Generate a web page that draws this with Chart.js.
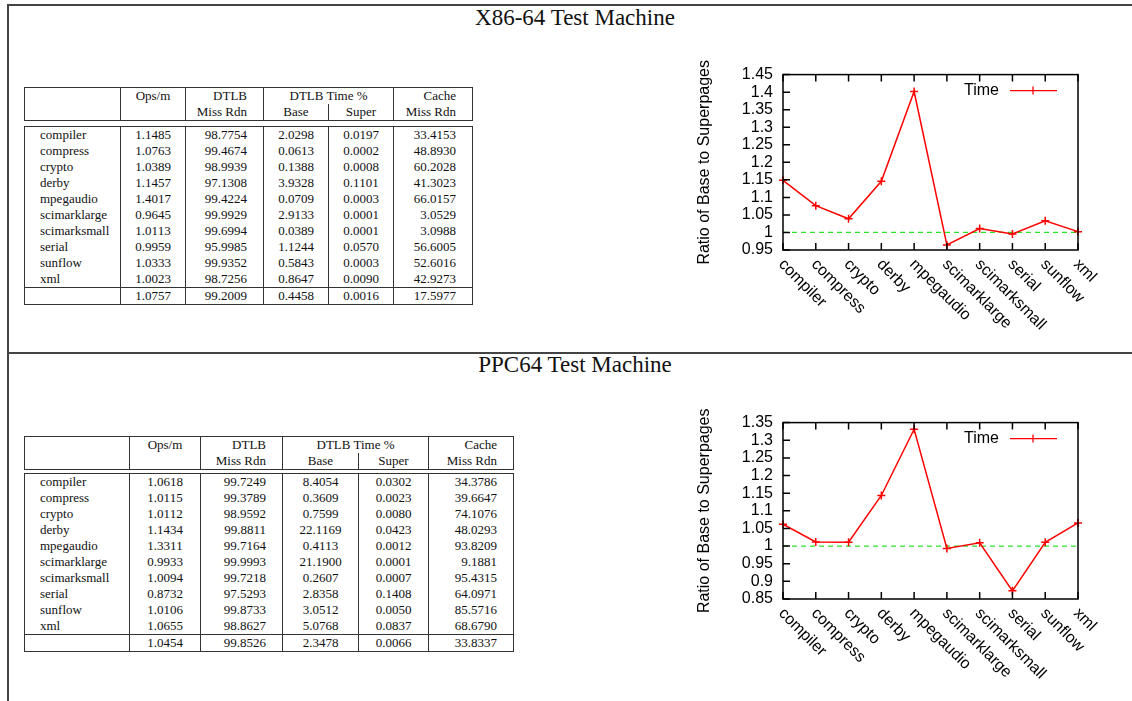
<!DOCTYPE html>
<html lang="en">
<head>
<meta charset="UTF-8" />
<title>Base vs superpages</title>
<script src="https://cdn.jsdelivr.net/npm/chart.js@4.4.1/dist/chart.umd.min.js"></script>
<style>
  body { margin: 0; width: 1132px; height: 701px; position: relative; overflow: hidden; background: #fff;
         font-family: "Liberation Serif", "Times New Roman", serif; color: #111; }
  .rule { position: absolute; background: #444; }
  .heading { position: absolute; left: 18px; right: 0; height: 26px; line-height: 26px; text-align: center; font-size: 23px; }
  table { position: absolute; border-collapse: collapse; table-layout: fixed; font-size: 13px; line-height: 16px; }
  td { padding: 0; border-left: 1.5px solid #333; border-right: 1.5px solid #333; white-space: nowrap; }
  table.head, table.body { border: 1.5px solid #333; }
  .name { text-align: left; padding-left: 15px; }
  .mid { text-align: center; }
  .rgt { text-align: right; padding-right: 16px; }
  tr.total td { border-top: 1.5px solid #333; height: 16px; }
  td.split { border-left: 1.5px solid #333; }
  .chartBox { position: absolute; left: 690px; width: 442px; height: 295px; }
</style>
</head>
<body>
<!-- page frame -->
<div class="rule" style="left:8px; top:4px; width:1124px; height:1.5px;"></div>
<div class="rule" style="left:7px; top:4px; width:1.5px; height:697px;"></div>
<div class="rule" style="left:8px; top:352px; width:1124px; height:2px;"></div>

<div class="heading" style="top:5px;">X86-64 Test Machine</div>
<div class="heading" style="top:352px;">PPC64 Test Machine</div>

<!-- x86 table -->
<table class="head" id="x86Head" style="left:24px; top:87px; width:448px;"></table>
<table class="body" id="x86Body" style="left:24px; top:126px; width:448px;"></table>
<!-- ppc table -->
<table class="head" id="ppcHead" style="left:24px; top:436px; width:489px;"></table>
<table class="body" id="ppcBody" style="left:24px; top:473px; width:489px;"></table>

<div class="chartBox" style="top:55px;"><canvas id="x86Chart"></canvas></div>
<div class="chartBox" style="top:403px;"><canvas id="ppcChart"></canvas></div>

<script>
// benchmark names (rows of the tables, categories of the charts)
var benchmarks = ['compiler', 'compress', 'crypto', 'derby', 'mpegaudio',
                  'scimarklarge', 'scimarksmall', 'serial', 'sunflow', 'xml'];

// X86-64
var x86Ops   = [1.1485, 1.0763, 1.0389, 1.1457, 1.4017, 0.9645, 1.0113, 0.9959, 1.0333, 1.0023];
var x86Miss  = [98.7754, 99.4674, 98.9939, 97.1308, 99.4224, 99.9929, 99.6994, 95.9985, 99.9352, 98.7256];
var x86Base  = [2.0298, 0.0613, 0.1388, 3.9328, 0.0709, 2.9133, 0.0389, 1.1244, 0.5843, 0.8647];
var x86Super = [0.0197, 0.0002, 0.0008, 0.1101, 0.0003, 0.0001, 0.0001, 0.0570, 0.0003, 0.0090];
var x86Cache = [33.4153, 48.8930, 60.2028, 41.3023, 66.0157, 3.0529, 3.0988, 56.6005, 52.6016, 42.9273];
var x86Total = ['1.0757', '99.2009', '0.4458', '0.0016', '17.5977'];
var x86Widths = [96, 65, 78, 65, 65, 79];

// PPC64
var ppcOps   = [1.0618, 1.0115, 1.0112, 1.1434, 1.3311, 0.9933, 1.0094, 0.8732, 1.0106, 1.0655];
var ppcMiss  = [99.7249, 99.3789, 98.9592, 99.8811, 99.7164, 99.9993, 99.7218, 97.5293, 99.8733, 98.8627];
var ppcBase  = [8.4054, 0.3609, 0.7599, 22.1169, 0.4113, 21.1900, 0.2607, 2.8358, 3.0512, 5.0768];
var ppcSuper = [0.0302, 0.0023, 0.0080, 0.0423, 0.0012, 0.0001, 0.0007, 0.1408, 0.0050, 0.0837];
var ppcCache = [34.3786, 39.6647, 74.1076, 48.0293, 93.8209, 9.1881, 95.4315, 64.0971, 85.5716, 68.6790];
var ppcTotal = ['1.0454', '99.8526', '2.3478', '0.0066', '33.8337'];
var ppcWidths = [105, 71, 82, 76, 70, 85];

// the dashed reference line (no difference between base and superpages)
var referenceRatio = 1;
var legendLabel = 'Time';
var axisTitle = 'Ratio of Base to Superpages';

var colAlign = ['name', 'mid', 'rgt', 'mid', 'mid', 'rgt'];

function colgroup(widths) {
  return '<colgroup>' + widths.map(function (w) { return '<col style="width:' + w + 'px">'; }).join('') + '</colgroup>';
}

function fillTable(prefix, widths, cols, totals) {
  var head = document.getElementById(prefix + 'Head');
  head.innerHTML = colgroup(widths) +
    '<tr><td rowspan="2"></td><td class="mid" rowspan="2" style="vertical-align:top">Ops/m</td>' +
    '<td class="rgt" rowspan="2">DTLB<br>Miss Rdn</td><td class="mid" colspan="2">DTLB Time %</td>' +
    '<td class="rgt" rowspan="2">Cache<br>Miss Rdn</td></tr>' +
    '<tr><td class="mid" style="border-right:none">Base</td><td class="mid split">Super</td></tr>';

  var body = document.getElementById(prefix + 'Body');
  body.innerHTML = colgroup(widths);
  benchmarks.forEach(function (name, i) {
    var tr = body.insertRow();
    var cells = [name].concat(cols.map(function (c) { return c[i].toFixed(4); }));
    cells.forEach(function (t, j) {
      var td = tr.insertCell();
      td.textContent = t;
      td.className = colAlign[j];
    });
  });
  var tr = body.insertRow();
  tr.className = 'total';
  [''].concat(totals).forEach(function (t, j) {
    var td = tr.insertCell();
    td.textContent = t;
    td.className = colAlign[j];
  });
}

fillTable('x86', x86Widths, [x86Ops, x86Miss, x86Base, x86Super, x86Cache], x86Total);
fillTable('ppc', ppcWidths, [ppcOps, ppcMiss, ppcBase, ppcSuper, ppcCache], ppcTotal);

// gnuplot look: full box, inward ticks, slanted labels, legend inside
var gnuplotFrame = {
  id: 'gnuplotFrame',
  beforeDatasetsDraw: function (chart) {
    var ctx = chart.ctx, a = chart.chartArea, y = chart.scales.y;
    var yRef = y.getPixelForValue(referenceRatio);
    ctx.save();
    ctx.strokeStyle = 'rgb(40,225,40)';
    ctx.lineWidth = 1.2;
    ctx.setLineDash([5, 4]);
    ctx.beginPath();
    ctx.moveTo(a.left, yRef);
    ctx.lineTo(a.right, yRef);
    ctx.stroke();
    ctx.restore();
  },
  afterDraw: function (chart) {
    var ctx = chart.ctx, a = chart.chartArea, x = chart.scales.x, y = chart.scales.y;
    ctx.save();
    ctx.strokeStyle = '#000';
    ctx.lineWidth = 1.5;
    ctx.strokeRect(a.left, a.top, a.right - a.left, a.bottom - a.top);
    ctx.beginPath();
    y.ticks.forEach(function (t) {
      var py = y.getPixelForValue(t.value);
      ctx.moveTo(a.left, py); ctx.lineTo(a.left + 7, py);
    });
    x.ticks.forEach(function (t, i) {
      var px = x.getPixelForTick(i);
      ctx.moveTo(px, a.bottom); ctx.lineTo(px, a.bottom - 7);
      ctx.moveTo(px, a.top); ctx.lineTo(px, a.top + 7);
    });
    ctx.stroke();

    // category labels, slanted down to the right
    ctx.fillStyle = '#000';
    ctx.font = '16px "Liberation Sans", Arial, sans-serif';
    ctx.textAlign = 'left';
    ctx.textBaseline = 'middle';
    x.ticks.forEach(function (t, i) {
      var px = x.getPixelForTick(i);
      ctx.save();
      ctx.translate(px - 2, a.bottom + 12);
      ctx.rotate(Math.PI / 4);
      ctx.fillText(x.getLabelForValue(t.value), 0, 0);
      ctx.restore();
    });

    // legend
    var ly = a.top + 16;
    ctx.textAlign = 'right';
    ctx.fillText(legendLabel, a.right - 79, ly);
    ctx.strokeStyle = 'rgb(255,0,0)';
    ctx.lineWidth = 1.3;
    ctx.beginPath();
    ctx.moveTo(a.right - 68, ly); ctx.lineTo(a.right - 21, ly);
    ctx.moveTo(a.right - 45, ly - 4); ctx.lineTo(a.right - 45, ly + 4);
    ctx.stroke();
    ctx.restore();
  }
};

Chart.defaults.font.family = '"Liberation Sans", Arial, sans-serif';
Chart.defaults.font.size = 16;
Chart.defaults.color = '#000';

function makeChart(id, values, yMin, yMax, bottomSpace) {
  return new Chart(document.getElementById(id), {
    type: 'line',
    data: {
      labels: benchmarks,
      datasets: [{
        label: legendLabel,
        data: values,
        borderColor: 'rgb(255,0,0)',
        borderWidth: 1.5,
        pointStyle: 'cross',
        pointRadius: 4,
        pointBorderWidth: 1.5,
        pointBorderColor: 'rgb(255,0,0)',
        tension: 0,
        clip: false
      }]
    },
    options: {
      responsive: true,
      maintainAspectRatio: false,
      animation: false,
      layout: { padding: { top: 16, right: 54, left: 0, bottom: 0 } },
      plugins: { legend: { display: false }, tooltip: { enabled: false } },
      scales: {
        x: {
          offset: false,
          grid: { display: false, drawTicks: false },
          border: { display: false },
          ticks: { display: false },
          afterFit: function (s) { s.height = bottomSpace; }
        },
        y: {
          min: yMin,
          max: yMax,
          grid: { display: false, drawTicks: false },
          border: { display: false },
          ticks: {
            stepSize: 0.05,
            autoSkip: false,
            padding: 10,
            callback: function (v) { return String(Number(v.toFixed(2))); }
          },
          title: { display: true, text: axisTitle, padding: { top: 5, bottom: 0 } },
          afterFit: function (s) { s.width = 93; }
        }
      }
    },
    plugins: [gnuplotFrame]
  });
}

makeChart('x86Chart', x86Ops, 0.95, 1.45, 100);
makeChart('ppcChart', ppcOps, 0.85, 1.35, 99);
</script>
</body>
</html>
